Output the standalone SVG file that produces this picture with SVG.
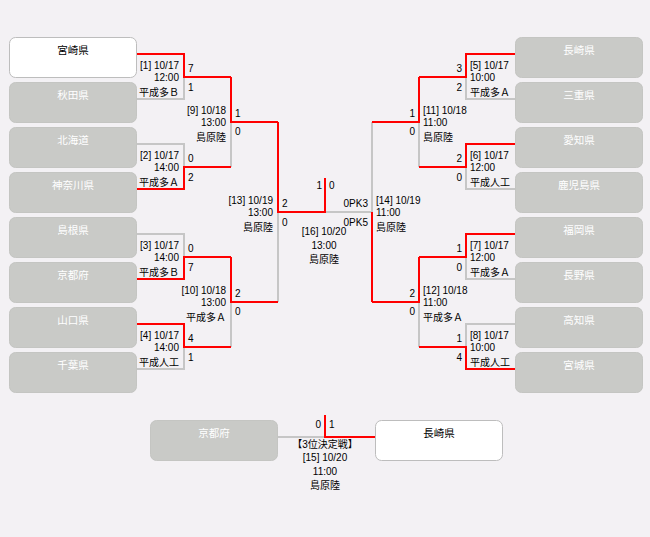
<svg xmlns="http://www.w3.org/2000/svg" width="650" height="537" viewBox="0 0 650 537">
<style>
text{font-family:"Liberation Sans","Noto Sans CJK JP",sans-serif;font-size:10px;fill:#000}
.box{fill:#c9cac7;stroke:#c4c5c2;stroke-width:1}
.win{fill:#ffffff;stroke:#bdbdbd;stroke-width:1}
.bt{font-size:10.5px;fill:#ffffff;text-anchor:middle}
.wt{font-size:10.5px;fill:#000;text-anchor:middle}
.g{fill:none;stroke:#c6c6c6;stroke-width:2}
.r{fill:none;stroke:#ff0000;stroke-width:2}
.e{text-anchor:end}
.m{text-anchor:middle}
</style>
<rect width="650" height="537" fill="#f3f1f4"/>
<g id="n-miyazaki"><rect class="win" x="9.5" y="37.5" width="127" height="40" rx="6"/><text class="wt" x="73" y="54">宮崎県</text></g>
<g id="n-akita"><rect class="box" x="9.5" y="82.5" width="127" height="40" rx="6"/><text class="bt" x="73" y="99">秋田県</text></g>
<g id="n-hokkaido"><rect class="box" x="9.5" y="127.5" width="127" height="40" rx="6"/><text class="bt" x="73" y="144">北海道</text></g>
<g id="n-kanagawa"><rect class="box" x="9.5" y="172.5" width="127" height="40" rx="6"/><text class="bt" x="73" y="189">神奈川県</text></g>
<g id="n-shimane"><rect class="box" x="9.5" y="217.5" width="127" height="40" rx="6"/><text class="bt" x="73" y="234">島根県</text></g>
<g id="n-kyoto"><rect class="box" x="9.5" y="262.5" width="127" height="40" rx="6"/><text class="bt" x="73" y="279">京都府</text></g>
<g id="n-yamaguchi"><rect class="box" x="9.5" y="307.5" width="127" height="40" rx="6"/><text class="bt" x="73" y="324">山口県</text></g>
<g id="n-chiba"><rect class="box" x="9.5" y="352.5" width="127" height="40" rx="6"/><text class="bt" x="73" y="369">千葉県</text></g>
<g id="n-nagasaki"><rect class="box" x="515.5" y="37.5" width="127" height="40" rx="6"/><text class="bt" x="579" y="54">長崎県</text></g>
<g id="n-mie"><rect class="box" x="515.5" y="82.5" width="127" height="40" rx="6"/><text class="bt" x="579" y="99">三重県</text></g>
<g id="n-aichi"><rect class="box" x="515.5" y="127.5" width="127" height="40" rx="6"/><text class="bt" x="579" y="144">愛知県</text></g>
<g id="n-kagoshima"><rect class="box" x="515.5" y="172.5" width="127" height="40" rx="6"/><text class="bt" x="579" y="189">鹿児島県</text></g>
<g id="n-fukuoka"><rect class="box" x="515.5" y="217.5" width="127" height="40" rx="6"/><text class="bt" x="579" y="234">福岡県</text></g>
<g id="n-nagano"><rect class="box" x="515.5" y="262.5" width="127" height="40" rx="6"/><text class="bt" x="579" y="279">長野県</text></g>
<g id="n-kochi"><rect class="box" x="515.5" y="307.5" width="127" height="40" rx="6"/><text class="bt" x="579" y="324">高知県</text></g>
<g id="n-miyagi"><rect class="box" x="515.5" y="352.5" width="127" height="40" rx="6"/><text class="bt" x="579" y="369">宮城県</text></g>
<g id="n-kyoto3"><rect class="box" x="150.5" y="420.5" width="127" height="40" rx="6"/><text class="bt" x="214" y="437">京都府</text></g>
<g id="n-nagasaki3"><rect class="win" x="375.5" y="420.5" width="127" height="40" rx="6"/><text class="wt" x="439" y="437">長崎県</text></g>
<g id="connectors">
<path class="g" d="M137,99H184V77M137,144H184V167M231,122V167M137,234H184V257M137,369H184V347M231,302V347M278,212V302M325,212H372M515,99H466V77M515,189H466V167M419,122V167M515,279H466V257M515,324H466V347M419,302V347M372,122V212M278,437H325"/>
<path class="r" d="M137,54H184V77H231M137,189H184V167H231M231,77V122H278M137,279H184V257H231M137,324H184V347H231M231,257V302H278M278,122V212H325V178M515,54H466V77H419M515,144H466V167H419M419,77V122H372M515,234H466V257H419M515,369H466V347H419M419,257V302H372M372,302V212M325,415V437H375"/>
</g>
<g id="labels">
<text class="e" x="179" y="68.5">[1] 10/17</text><text class="e" x="179" y="81.3">12:00</text><text class="e" x="179" y="95.7">平成多Ｂ</text><text x="188" y="72">7</text><text x="188" y="90.5">1</text>
<text class="e" x="179" y="158.5">[2] 10/17</text><text class="e" x="179" y="171.3">14:00</text><text class="e" x="179" y="185.7">平成多Ａ</text><text x="188" y="162">0</text><text x="188" y="180.5">2</text>
<text class="e" x="179" y="248.5">[3] 10/17</text><text class="e" x="179" y="261.3">14:00</text><text class="e" x="179" y="275.7">平成多Ｂ</text><text x="188" y="252">0</text><text x="188" y="270.5">7</text>
<text class="e" x="179" y="338.5">[4] 10/17</text><text class="e" x="179" y="351.3">14:00</text><text class="e" x="179" y="365.7">平成人工</text><text x="188" y="342">4</text><text x="188" y="360.5">1</text>
<text class="e" x="226" y="113.5">[9] 10/18</text><text class="e" x="226" y="126.3">13:00</text><text class="e" x="226" y="140.7">島原陸</text><text x="235" y="117">1</text><text x="235" y="134.5">0</text>
<text class="e" x="226" y="293.5">[10] 10/18</text><text class="e" x="226" y="306.3">13:00</text><text class="e" x="226" y="320.7">平成多Ａ</text><text x="235" y="297">2</text><text x="235" y="314.5">0</text>
<text class="e" x="273" y="203.5">[13] 10/19</text><text class="e" x="273" y="216.3">13:00</text><text class="e" x="273" y="230.7">島原陸</text><text x="282" y="207">2</text><text x="282" y="225.5">0</text>
<text x="470" y="68.5">[5] 10/17</text><text x="470" y="81.3">10:00</text><text x="470" y="95.7">平成多Ａ</text><text class="e" x="462" y="72">3</text><text class="e" x="462" y="90.5">2</text>
<text x="470" y="158.5">[6] 10/17</text><text x="470" y="171.3">12:00</text><text x="470" y="185.7">平成人工</text><text class="e" x="462" y="162">2</text><text class="e" x="462" y="180.5">0</text>
<text x="470" y="248.5">[7] 10/17</text><text x="470" y="261.3">12:00</text><text x="470" y="275.7">平成多Ａ</text><text class="e" x="462" y="252">1</text><text class="e" x="462" y="270.5">0</text>
<text x="470" y="338.5">[8] 10/17</text><text x="470" y="351.3">10:00</text><text x="470" y="365.7">平成人工</text><text class="e" x="462" y="342">1</text><text class="e" x="462" y="360.5">4</text>
<text x="423" y="113.5">[11] 10/18</text><text x="423" y="126.3">11:00</text><text x="423" y="140.7">島原陸</text><text class="e" x="415" y="117">1</text><text class="e" x="415" y="134.5">0</text>
<text x="423" y="293.5">[12] 10/18</text><text x="423" y="306.3">11:00</text><text x="423" y="320.7">平成多Ａ</text><text class="e" x="415" y="297">2</text><text class="e" x="415" y="314.5">0</text>
<text x="376" y="203.5">[14] 10/19</text><text x="376" y="216.3">11:00</text><text x="376" y="230.7">島原陸</text><text class="e" x="368" y="207">0PK3</text><text class="e" x="368" y="225.5">0PK5</text>
<text class="e" x="322" y="188.5">1</text><text x="329" y="188.5">0</text>
<text class="m" x="324" y="235.3">[16] 10/20</text><text class="m" x="324" y="249.3">13:00</text><text class="m" x="324" y="263">島原陸</text>
<text class="e" x="321" y="427.5">0</text><text x="329" y="427.5">1</text>
<text class="m" x="325" y="448">【3位決定戦】</text><text class="m" x="325" y="461">[15] 10/20</text><text class="m" x="325" y="474.5">11:00</text><text class="m" x="325" y="488.5">島原陸</text>
</g>
</svg>
